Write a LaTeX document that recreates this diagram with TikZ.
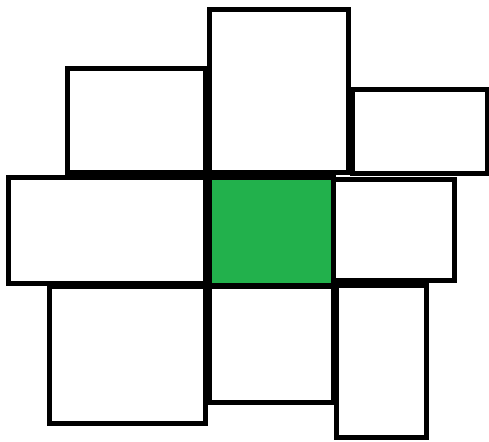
\documentclass[tikz,border=0pt]{standalone}
\usepackage{xcolor}
\usepackage{tikz}
\definecolor{tilegreen}{HTML}{22B14C}

\begin{document}
\begin{tikzpicture}[x=0.02cm, y=-0.02cm, line join=miter]
    \tikzset{tile/.style={draw=black, fill=white, line width=0.1cm}}
    \useasboundingbox (0,0) rectangle (489,441);

    % Hàng trên
    \draw[tile] (67.5,68.5) rectangle (205,172);
    \draw[tile] (209.5,9) rectangle (348.5,172);
    \draw[tile] (352,89.5) rectangle (487,173.5);

    % Hàng giữa: ô xanh ở tâm
    \draw[tile] (8.5,177) rectangle (205.5,283);
    \draw[tile, fill=tilegreen] (209.5,177) rectangle (333.5,285);
    \draw[tile] (333.5,179) rectangle (454.5,280.5);

    % Hàng dưới
    \draw[tile] (49.5,286.5) rectangle (205.5,423);
    \draw[tile] (209.5,286) rectangle (333.5,402.5);
    \draw[tile] (336,285.5) rectangle (426,437.5);
\end{tikzpicture}
\end{document}
